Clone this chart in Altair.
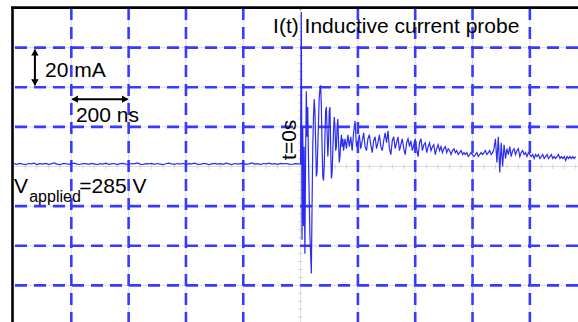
import altair as alt
import pandas as pd

# Probe current (mA) before the trigger, one sample every 10 ns from -1000 ns
pre_ma = [
    1.4, 1.1, 1.6, 1.2, 0.9, 1.5, 1.3, 1.7, 1.0, 1.4,
    1.2, 1.6, 1.1, 1.3, 1.8, 1.2, 0.9, 1.4, 1.5, 1.1,
    1.3, 1.7, 1.2, 1.0, 1.5, 1.4, 1.1, 1.6, 1.3, 0.9,
    1.4, 1.2, 1.7, 1.1, 1.3, 1.5, 1.0, 1.4, 1.6, 1.2,
    1.1, 1.5, 1.3, 1.8, 1.2, 1.0, 1.4, 1.3, 1.6, 1.1,
    1.5, 1.2, 0.9, 1.4, 1.7, 1.3, 1.1, 1.5, 1.2, 1.6,
    1.0, 1.4, 1.3, 1.7, 1.2, 1.1, 1.5, 1.4, 0.9, 1.3,
    1.6, 1.2, 1.4, 1.1, 1.7, 1.3, 1.0, 1.5, 1.2, 1.4,
    1.6, 1.1, 1.3, 1.8, 1.2, 1.4, 1.0, 1.5, 1.3, 1.7,
    1.2, 1.4, 1.1, 1.6, 1.3, 1.5, 1.2, 1.0, 1.4, 1.3,
]

# Ringing right after the trigger, one sample every 2.5 ns from 0 ns
ring_ma = [
    1.3, 78, -37, 20, -30, 10, -44, 5, 38, 15,
    30, 5, -15, -35, -44, -54, -20, 10, 25, 34,
    28, 12, -5, -3, 10, 22, 35, 39, 41, 30,
    10, -5, -7, 0, 15, 28, 30, 18, 5, 12,
    28, 30, 10, -6, -3, 8, 18, 25, 20, 8,
    10, 20, 24, 12, 2, 5, 12, 16, 10, 14,
    8,
]

# Decaying tail, one sample every 5 ns from 155 ns
tail_ma = [
    14, 9, 16, 10, 15, 8, 17, 23, 10,
    12, 16, 9, 13, 17, 10, 8, 14, 16, 11, 7, 13, 15, 9, 12, 16, 10, 8, 13, 17,
    12, 18, 9, 6, 13, 15, 9, 12, 15, 8, 11, 14, 9, 6, 12, 14, 10, 13, 8, 11,
    14, 9, 5, 12, 14, 8, 11, 12, 7, 10, 12, 8, 10, 11, 6, 9, 11, 8, 10, 7,
    9, 10, 7, 9, 8, 6, 8, 9, 7, 8, 6, 7, 8, 6, 7, 6, 7, 5, 6, 7,
    6, 5, 6, 7, 5, 6, 7, 6, 7, 8, 6, 7, 8, 6, 7, 9, 14, 2, 15, -3,
    12, 0, 11, 4, 9, 6, 10, 5, 8, 9, 6, 8, 9, 5, 7, 8, 6, 7, 5, 7,
    6, 5, 6, 4, 6, 5, 6, 4, 5, 6, 4, 5, 6, 4, 5, 6, 4, 5, 4, 5,
    6, 4, 5, 4, 5, 3, 5, 4, 5, 4, 5, 4, 5,
]

# Screen divisions: 200 ns and 20 mA per division
grid_t = [-800, -600, -400, -200, 200, 400, 600, 800]
grid_ma = [60, 40, 20, -20, -40, -60]
minor_t = [-960, -920, -880, -840, -760, -720, -680, -640, -560, -520, -480, -440,
           -360, -320, -280, -240, -160, -120, -80, -40, 40, 80, 120, 160,
           240, 280, 320, 360, 440, 480, 520, 560, 640, 680, 720, 760, 840, 880, 920, 960]
minor_ma = [76, 72, 68, 64, 56, 52, 48, 44, 36, 32, 28, 24, 16, 12, 8, 4,
            -4, -8, -12, -16, -24, -28, -32, -36, -44, -48, -52, -56, -64, -68, -72, -76]

times = ([-1000 + 10 * i for i in range(len(pre_ma))]
         + [2.5 * i for i in range(len(ring_ma))]
         + [155 + 5 * i for i in range(len(tail_ma))])
trace = pd.DataFrame({"t": times, "i": pre_ma + ring_ma + tail_ma})

X = alt.Scale(domain=[-1000, 968], nice=False, zero=False)
Y = alt.Scale(domain=[-78.5, 80], nice=False, zero=False)
FONT = "Liberation Sans"
BLUE = "#3a3aff"
GRAY = "#dcdcdc"

gray_v = alt.Chart(pd.DataFrame({"t": grid_t + [0]})).mark_rule(color=GRAY, strokeWidth=1).encode(
    x=alt.X("t:Q", scale=X, axis=None))
gray_h = alt.Chart(pd.DataFrame({"i": grid_ma + [0]})).mark_rule(color=GRAY, strokeWidth=1).encode(
    y=alt.Y("i:Q", scale=Y, axis=None))

dash_v = alt.Chart(pd.DataFrame({"t": grid_t})).mark_rule(
    color=BLUE, strokeWidth=2.6, strokeDash=[12, 7]).encode(x=alt.X("t:Q", scale=X, axis=None))
dash_h = alt.Chart(pd.DataFrame({"i": grid_ma})).mark_rule(
    color=BLUE, strokeWidth=2.6, strokeDash=[12, 7]).encode(y=alt.Y("i:Q", scale=Y, axis=None))

tick_h = alt.Chart(pd.DataFrame({"t": minor_t, "i": [0] * len(minor_t)})).mark_tick(
    orient="vertical", size=5, thickness=1, color="#c8c8c8").encode(
    x=alt.X("t:Q", scale=X, axis=None), y=alt.Y("i:Q", scale=Y, axis=None))
tick_v = alt.Chart(pd.DataFrame({"t": [0] * len(minor_ma), "i": minor_ma})).mark_tick(
    orient="horizontal", size=5, thickness=1, color="#c8c8c8").encode(
    x=alt.X("t:Q", scale=X, axis=None), y=alt.Y("i:Q", scale=Y, axis=None))

signal = alt.Chart(trace).mark_line(color="#2b2bf2", strokeWidth=1.2, clip=True).encode(
    x=alt.X("t:Q", scale=X, axis=None), y=alt.Y("i:Q", scale=Y, axis=None), order="t:Q")

trig = alt.Chart(pd.DataFrame({"t": [0], "i": [80]})).mark_point(
    filled=True, color="#4a90e2", size=14).encode(
    x=alt.X("t:Q", scale=X, axis=None), y=alt.Y("i:Q", scale=Y, axis=None))

# Scale arrows: one division high and one division wide
v_arrow = alt.Chart(pd.DataFrame({"t": [-927], "a": [41], "b": [59]})).mark_rule(
    color="black", strokeWidth=2).encode(
    x=alt.X("t:Q", scale=X, axis=None), y=alt.Y("a:Q", scale=Y, axis=None), y2="b:Q")
v_heads = alt.Chart(pd.DataFrame({"t": [-927, -927], "i": [57.6, 42.4],
                                  "s": ["triangle-up", "triangle-down"]})).mark_point(
    filled=True, color="black", size=55, opacity=1).encode(
    x=alt.X("t:Q", scale=X, axis=None), y=alt.Y("i:Q", scale=Y, axis=None),
    shape=alt.Shape("s:N", scale=None, legend=None))
h_arrow = alt.Chart(pd.DataFrame({"a": [-796], "b": [-604], "i": [34]})).mark_rule(
    color="black", strokeWidth=2).encode(
    x=alt.X("a:Q", scale=X, axis=None), x2="b:Q", y=alt.Y("i:Q", scale=Y, axis=None))
h_heads = alt.Chart(pd.DataFrame({"t": [-788, -612], "i": [34, 34],
                                  "s": ["triangle-left", "triangle-right"]})).mark_point(
    filled=True, color="black", size=55, opacity=1).encode(
    x=alt.X("t:Q", scale=X, axis=None), y=alt.Y("i:Q", scale=Y, axis=None),
    shape=alt.Shape("s:N", scale=None, legend=None))

labels = pd.DataFrame({
    "t": [-892, -784, -96, -1000, -947, -772],
    "i": [45, 22.5, 67.4, -13.4, -18.0, -13.4],
    "txt": ["20 mA", "200 ns", "I(t) Inductive current probe", "V", "applied", "=285 V"],
    "fs": [21, 21, 21, 21, 16, 21],
})
texts = alt.Chart(labels).mark_text(align="left", baseline="alphabetic", font=FONT, color="black").encode(
    x=alt.X("t:Q", scale=X, axis=None), y=alt.Y("i:Q", scale=Y, axis=None),
    text="txt:N", size=alt.Size("fs:Q", scale=None, legend=None))

t0 = alt.Chart(pd.DataFrame({"t": [-16], "i": [3.3], "txt": ["t=0s"]})).mark_text(
    angle=270, align="left", baseline="alphabetic", font=FONT, fontSize=21, color="black").encode(
    x=alt.X("t:Q", scale=X, axis=None), y=alt.Y("i:Q", scale=Y, axis=None), text="txt:N")

# Black frame on the left and top edges of the screen
frame_l = alt.Chart(pd.DataFrame({"k": [0]})).mark_rule(color="black", strokeWidth=2.6).encode(
    x=alt.value(-1.5), y=alt.value(-1.3), y2=alt.value(330))
frame_t = alt.Chart(pd.DataFrame({"k": [0]})).mark_rule(color="black", strokeWidth=2.8).encode(
    x=alt.value(-2.8), x2=alt.value(580), y=alt.value(-0.3))

chart = alt.layer(
    gray_v, gray_h, dash_v, dash_h, tick_h, tick_v, signal, trig,
    v_arrow, v_heads, h_arrow, h_heads, texts, t0, frame_l, frame_t,
).properties(
    width=564, height=314,
    padding={"left": 14, "top": 8, "right": 0, "bottom": 0},
    autosize=alt.AutoSizeParams(type="none"),
    background="white",
).configure_view(stroke=None)

chart.save("out.html", embed_options={"renderer": "svg", "actions": False})
